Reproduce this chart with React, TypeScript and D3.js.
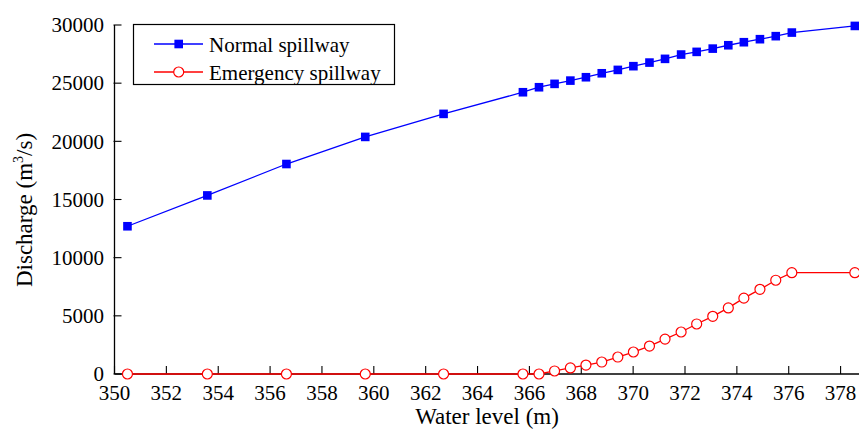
import React, { useEffect, useRef } from "react";
import * as d3 from "d3";

const waterLevel = [350.5, 353.58, 356.63, 359.67, 362.69, 365.75, 366.37, 366.97, 367.58, 368.18, 368.79, 369.41, 370.01, 370.63, 371.23, 371.85, 372.45, 373.07, 373.67, 374.27, 374.89, 375.5, 376.12, 378.55];
const normalSpillway = [12700, 15350, 18050, 20380, 22360, 24220, 24650, 24940, 25220, 25510, 25850, 26140, 26460, 26770, 27090, 27460, 27690, 27970, 28260, 28520, 28780, 29040, 29350, 29920];
const emergencySpillway = [0, 0, 0, 0, 0, 0, 0, 260, 520, 770, 1030, 1460, 1890, 2400, 3000, 3610, 4300, 4960, 5680, 6520, 7280, 8060, 8710, 8710];
const xTicks = [350, 352, 354, 356, 358, 360, 362, 364, 366, 368, 370, 372, 374, 376, 378];
const yTicks = [0, 5000, 10000, 15000, 20000, 25000, 30000];
const seriesNames = ["Normal spillway", "Emergency spillway"];

const W = 859;
const H = 439;
const FONT = "'Liberation Serif', 'Times New Roman', serif";

export default function App() {
  const ref = useRef<SVGSVGElement | null>(null);

  useEffect(() => {
    document.body.style.margin = "0";
    const svg = d3.select(ref.current);
    svg.selectAll("*").remove();

    const left = 114.5, right = 859, top = 25, bottom = 374;
    const x = d3.scaleLinear().domain([350, 378.71]).range([left, right]);
    const y = d3.scaleLinear().domain([0, 30000]).range([bottom, top]);

    const g = svg.append("g");

    // axes lines
    g.append("line").attr("x1", left).attr("x2", right).attr("y1", bottom).attr("y2", bottom)
      .attr("stroke", "#000").attr("stroke-width", 1.3);
    g.append("line").attr("x1", left).attr("x2", left).attr("y1", bottom).attr("y2", top)
      .attr("stroke", "#000").attr("stroke-width", 1.3);

    // x ticks
    xTicks.forEach((t) => {
      g.append("line").attr("x1", x(t)).attr("x2", x(t)).attr("y1", bottom).attr("y2", bottom - 8)
        .attr("stroke", "#000").attr("stroke-width", 1.1);
      g.append("text").attr("x", x(t)).attr("y", 399.5).attr("text-anchor", "middle")
        .attr("font-family", FONT).attr("font-size", 21).attr("fill", "#000").text(String(t));
    });
    // y ticks
    yTicks.forEach((t) => {
      g.append("line").attr("x1", left - 1).attr("x2", left + 7).attr("y1", y(t)).attr("y2", y(t))
        .attr("stroke", "#000").attr("stroke-width", 1.1);
      g.append("text").attr("x", 104).attr("y", y(t) + 7.3).attr("text-anchor", "end")
        .attr("font-family", FONT).attr("font-size", 21).attr("fill", "#000").text(String(t));
    });

    // axis titles
    g.append("text").attr("x", 487).attr("y", 423.5).attr("text-anchor", "middle")
      .attr("font-family", FONT).attr("font-size", 23).attr("fill", "#000").text("Water level (m)");
    const yt = g.append("text").attr("transform", "translate(31.5,210) rotate(-90)")
      .attr("text-anchor", "middle").attr("font-family", FONT).attr("font-size", 23).attr("fill", "#000");
    yt.append("tspan").text("Discharge (m");
    yt.append("tspan").attr("dy", -9).attr("font-size", 14).text("3");
    yt.append("tspan").attr("dy", 9).text("/s)");

    const line = d3.line<number>().x((_, i) => x(waterLevel[i]));

    // emergency spillway
    g.append("path").datum(emergencySpillway)
      .attr("d", line.y((d) => y(d)))
      .attr("fill", "none").attr("stroke", "#ff0000").attr("stroke-width", 1.3);
    g.selectAll("circle.em").data(emergencySpillway).enter().append("circle")
      .attr("class", "em")
      .attr("cx", (_, i) => x(waterLevel[i])).attr("cy", (d) => y(d)).attr("r", 5)
      .attr("fill", "#fff").attr("stroke", "#ff0000").attr("stroke-width", 1.2);

    // normal spillway
    g.append("path").datum(normalSpillway)
      .attr("d", line.y((d) => y(d)))
      .attr("fill", "none").attr("stroke", "#0000ff").attr("stroke-width", 1.3);
    g.selectAll("rect.nm").data(normalSpillway).enter().append("rect")
      .attr("class", "nm")
      .attr("x", (_, i) => x(waterLevel[i]) - 4.3).attr("y", (d) => y(d) - 4.3)
      .attr("width", 8.6).attr("height", 8.6).attr("fill", "#0000ff");

    // legend
    const lg = g.append("g");
    lg.append("rect").attr("x", 133.5).attr("y", 24.5).attr("width", 261).attr("height", 60)
      .attr("fill", "#fff").attr("stroke", "#000").attr("stroke-width", 1.2);
    const rows = [44, 72];
    lg.append("line").attr("x1", 154).attr("x2", 203).attr("y1", rows[0]).attr("y2", rows[0])
      .attr("stroke", "#0000ff").attr("stroke-width", 1.3);
    lg.append("rect").attr("x", 178.7 - 4.3).attr("y", rows[0] - 4.3).attr("width", 8.6).attr("height", 8.6)
      .attr("fill", "#0000ff");
    lg.append("line").attr("x1", 154).attr("x2", 203).attr("y1", rows[1]).attr("y2", rows[1])
      .attr("stroke", "#ff0000").attr("stroke-width", 1.3);
    lg.append("circle").attr("cx", 178.7).attr("cy", rows[1]).attr("r", 5)
      .attr("fill", "#fff").attr("stroke", "#ff0000").attr("stroke-width", 1.2);
    seriesNames.forEach((name, i) => {
      lg.append("text").attr("x", 209).attr("y", rows[i] + 7.5)
        .attr("font-family", FONT).attr("font-size", 21).attr("fill", "#000").text(name);
    });
  }, []);

  return (
    <svg ref={ref} width={W} height={H} style={{ position: "absolute", left: 0, top: 0, background: "#fff" }} />
  );
}
